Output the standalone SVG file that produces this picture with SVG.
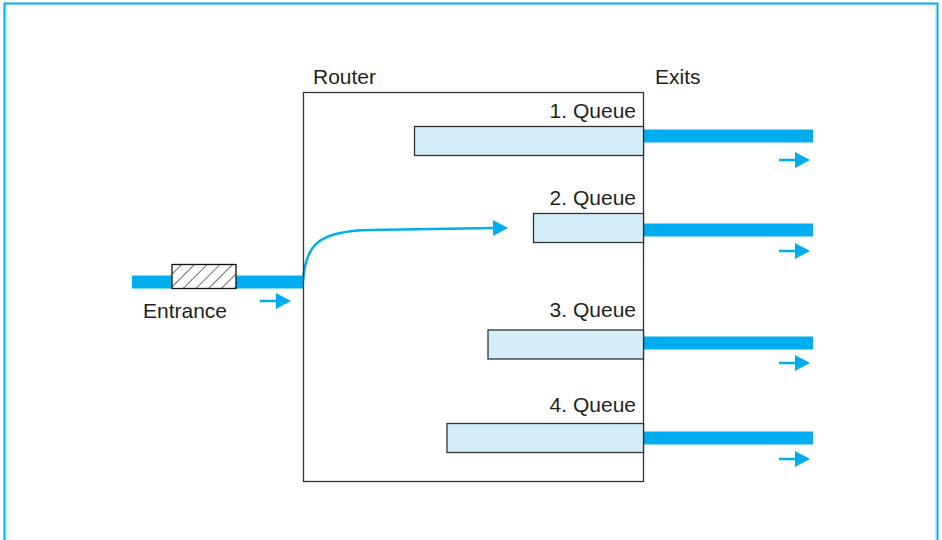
<svg xmlns="http://www.w3.org/2000/svg" width="942" height="540" viewBox="0 0 942 540">
<style>
.t{font-family:"Liberation Sans",Arial,sans-serif;font-size:21px;fill:#231f20}
.q{fill:#d4eef9;stroke:#333;stroke-width:1.3}
.bar{fill:#00aeef}
.arr{stroke:#00aeef;stroke-width:2.5;fill:none}
.ah{fill:#00aeef}
</style>
<defs>
<pattern id="hatch" patternUnits="userSpaceOnUse" width="9" height="9" patternTransform="rotate(45)">
<rect x="0" y="0" width="9" height="9" fill="#fff"/>
<line x1="0" y1="0" x2="0" y2="9" stroke="#111" stroke-width="1.2"/>
</pattern>
</defs>
<rect x="4.5" y="3.5" width="933" height="545" fill="none" stroke="#00aeef" stroke-width="2"/>
<rect x="6" y="5" width="930" height="545" fill="none" stroke="#7fd6f7" stroke-width="0.8"/>

<g id="connectors">
<rect class="bar" x="132" y="275.5" width="171" height="13"/>
<rect class="bar" x="643" y="129.5" width="170" height="13"/>
<rect class="bar" x="643" y="223.5" width="170" height="13"/>
<rect class="bar" x="643" y="336.5" width="170" height="13"/>
<rect class="bar" x="643" y="431.5" width="170" height="13"/>
<path class="arr" d="M303,282 C305,245 318,231 370,230 L494,228"/>
<polygon class="ah" points="493,220 508,228 493,236"/>
<line class="arr" x1="260" y1="301" x2="278" y2="301"/>
<polygon class="ah" points="276,293 291,301 276,309"/>
<line class="arr" x1="779" y1="160" x2="797" y2="160"/>
<polygon class="ah" points="795,152 810,160 795,168"/>
<line class="arr" x1="779" y1="251" x2="797" y2="251"/>
<polygon class="ah" points="795,243 810,251 795,259"/>
<line class="arr" x1="779" y1="363" x2="797" y2="363"/>
<polygon class="ah" points="795,355 810,363 795,371"/>
<line class="arr" x1="779" y1="459" x2="797" y2="459"/>
<polygon class="ah" points="795,451 810,459 795,467"/>
</g>

<g id="router">
<rect x="303.5" y="92.5" width="340" height="389" fill="none" stroke="#333" stroke-width="1.3"/>
<text class="t" x="313" y="84">Router</text>
</g>
<g id="exits"><text class="t" x="655" y="84">Exits</text></g>

<g id="entrance">
<rect x="172" y="264.5" width="64" height="24" fill="url(#hatch)" stroke="#111" stroke-width="1.3"/>
<text class="t" x="143" y="318">Entrance</text>
</g>

<g id="queue1">
<rect class="q" x="414.5" y="126.5" width="229" height="29"/>
<text class="t" x="636" y="118" text-anchor="end">1. Queue</text>
</g>
<g id="queue2">
<rect class="q" x="533.5" y="213.5" width="110" height="29"/>
<text class="t" x="636" y="205" text-anchor="end">2. Queue</text>
</g>
<g id="queue3">
<rect class="q" x="488" y="330" width="155.5" height="29"/>
<text class="t" x="636" y="317" text-anchor="end">3. Queue</text>
</g>
<g id="queue4">
<rect class="q" x="447" y="423.5" width="196.5" height="29"/>
<text class="t" x="636" y="412" text-anchor="end">4. Queue</text>
</g>
</svg>
